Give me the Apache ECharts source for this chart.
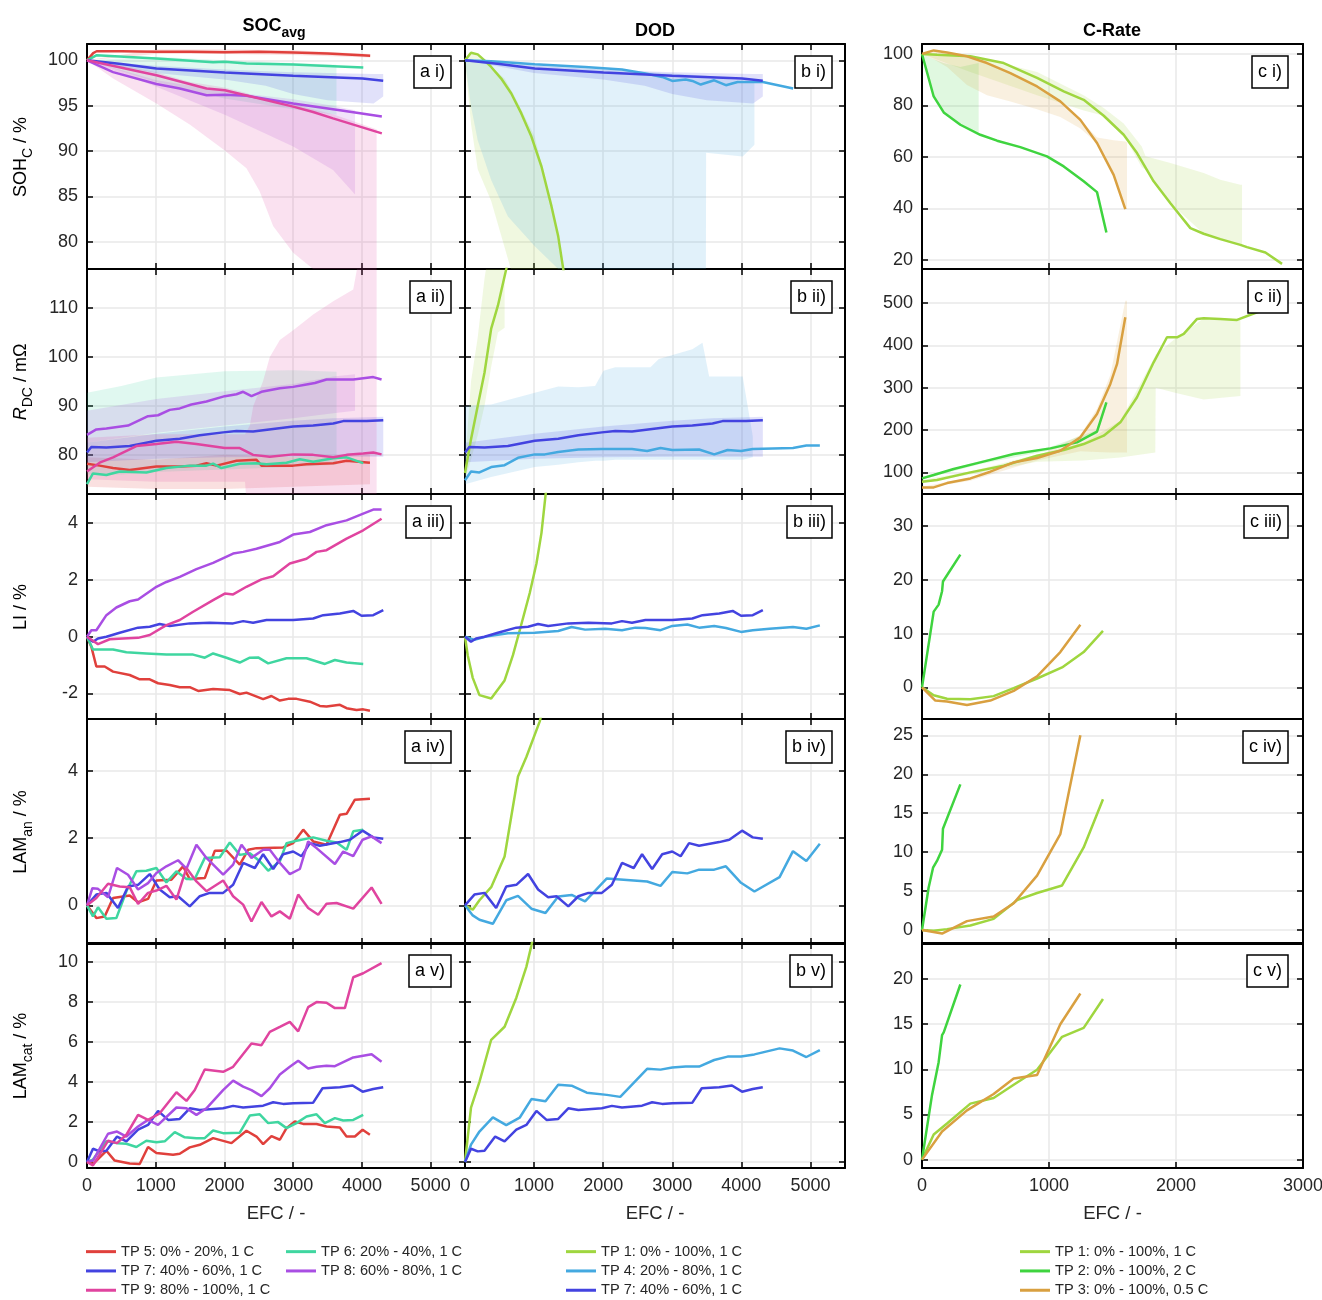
<!DOCTYPE html>
<html><head><meta charset="utf-8">
<script src="https://cdn.jsdelivr.net/npm/echarts@6/dist/echarts.min.js"></script>
<style>html,body{margin:0;padding:0;background:#fff}#c{width:1322px;height:1300px}</style>
</head><body><div id="c"></div>
<script>
// ---------- tick labels ----------
const xTicksAB = [0,1000,2000,3000,4000,5000];
const xTicksC = [0,1000,2000,3000];
const sohTicks = [80,85,90,95,100];
const rdcTicks = [80,90,100,110];
const liTicks = [-2,0,2,4];
const lamAnTicks = [0,2,4];
const lamCatTicks = [0,2,4,6,8,10];
const sohTicksC = [20,40,60,80,100];
const rdcTicksC = [100,200,300,400,500];
const liTicksC = [0,10,20,30];
const lamAnTicksC = [0,5,10,15,20,25];
const lamCatTicksC = [0,5,10,15,20];

// ---------- series names ----------
const N5='TP 5: 0% - 20%, 1 C', N6='TP 6: 20% - 40%, 1 C', N7='TP 7: 40% - 60%, 1 C',
      N8='TP 8: 60% - 80%, 1 C', N9='TP 9: 80% - 100%, 1 C', N1='TP 1: 0% - 100%, 1 C',
      N4='TP 4: 20% - 80%, 1 C', N2='TP 2: 0% - 100%, 2 C', N3='TP 3: 0% - 100%, 0.5 C';

// ---------- a i) SOH ----------
const tp5_soh=[[0,100],[90,100.8],[140,101.0],[500,101.0],[1000,100.95],[1500,100.95],[2000,100.9],[2500,100.95],[3000,100.85],[3500,100.75],[4000,100.55],[4120,100.5]];
const tp6_soh=[[0,100],[136,100.55],[1010,100.2],[1835,99.8],[2005,99.85],[2320,99.65],[3000,99.55],[3580,99.35],[4020,99.2]];
const tp7_soh=[[0,100],[500,99.6],[1010,99.1],[2005,98.65],[3000,98.3],[4010,98.0],[4310,97.75]];
const tp8_soh=[[0,100],[380,98.7],[1010,97.4],[1350,96.9],[1740,96.15],[2005,96.2],[2320,96.1],[3000,95.25],[3680,94.5],[4290,93.8]];
const tp9_soh=[[0,100],[1010,98.35],[1740,96.9],[2005,96.7],[3000,94.9],[3290,94.3],[3580,93.6],[4290,91.95]];
const tp5_soh_band=[[0,100,100],[1000,100.7,101.2],[2000,100.7,101.2],[3000,100.6,101.1],[4120,100.3,100.7]];
const tp6_soh_band=[[0,100,100],[1000,97.6,100.4],[2000,95.8,100.0],[3000,94.6,99.7],[3630,94.0,99.5]];
const tp7_soh_band=[[0,100,100],[1000,98.6,99.4],[2000,97.9,99.0],[2600,97.2,98.8],[3000,96.3,98.7],[3500,95.6,98.6],[4170,95.25,98.5],[4310,96.0,98.5]];
const tp8_soh_band=[[0,100,100],[1010,97.1,97.8],[2005,94.0,96.6],[3000,90.5,95.7],[3580,87.9,95.0],[3900,85.2,94.5]];
const tp9_soh_band=[[0,100,100],[380,98.0,99.6],[1010,95.25,98.7],[1500,92.9,97.6],[2000,90.1,97.0],[2320,88.1,96.4],[2510,85.6,95.8],[2710,81.7,95.3],[3000,78.8,95.2],[3290,77,94.6],[3600,70,94.0],[4214,70,92.4]];

// ---------- a ii) RDC ----------
const tp5_rdc=[[0,78.2],[184,77.8],[379,77.3],[621,76.9],[1010,77.6],[1350,77.6],[1592,77.8],[1738,78.3],[1883,77.8],[2175,78.8],[2466,79.0],[2539,77.8],[3000,77.8],[3194,78.1],[3583,78.3],[3777,78.8],[4117,78.4]];
const tp6_rdc=[[0,74.0],[87,76.2],[282,75.9],[476,76.6],[864,76.4],[1155,77.3],[1495,77.8],[1738,77.8],[1835,78.2],[1956,77.3],[2223,78.2],[2466,78.3],[2612,78.1],[2903,78.4],[3097,79.1],[3291,78.6],[3583,79.3],[3777,79.5],[4019,78.3]];
const tp7_rdc=[[0,80.5],[63,81.6],[282,81.5],[621,81.8],[1010,82.9],[1350,83.3],[1641,84.0],[1981,84.6],[2175,84.9],[2417,84.8],[3000,85.8],[3291,86.0],[3583,86.4],[3728,86.9],[4068,86.9],[4311,87.1]];
const tp8_rdc=[[0,84.1],[136,85.2],[282,85.4],[597,86.0],[888,87.9],[1034,88.1],[1204,89.2],[1350,89.5],[1519,90.3],[1738,90.9],[2005,92.0],[2175,92.4],[2272,92.9],[2393,92.0],[2539,92.9],[2806,93.6],[3000,93.9],[3194,94.4],[3316,94.7],[3485,95.4],[3874,95.4],[4165,95.9],[4286,95.4]];
const tp9_rdc=[[0,76.6],[184,78.4],[379,79.5],[718,81.8],[1010,82.2],[1301,82.7],[1592,82.2],[2005,81.4],[2223,81.4],[2417,80.0],[2660,79.6],[3000,80.1],[3291,80.0],[3583,79.5],[3777,80.0],[4019,80.3],[4165,80.5],[4286,80.1]];
const tp5_rdc_band=[[0,73.5,79.5],[1000,73.0,79.0],[2000,73.0,80.0],[3000,73.5,79.5],[4117,74.0,80.0]];
const tp6_rdc_band=[[0,76,92.7],[500,76,94.1],[1010,76.5,95.8],[2005,77,97.1],[3000,77.5,97.3],[3631,78,97.0]];
const tp7_rdc_band=[[0,78.5,82.5],[1010,79.2,84.3],[2005,79.5,85.8],[3000,79.6,87.0],[3583,79.6,87.5],[4311,79.6,87.8]];
const tp8_rdc_band=[[0,82.5,89],[1010,84.5,91.4],[2005,86,93],[3000,87.5,94.5],[3583,88.5,96.0],[3900,89,96.5]];
const tp9_rdc_band=[[0,75,83.5],[1000,74.5,84.2],[2300,74.5,84.2],[2369,60,86],[2420,60,90],[2560,60,95],[2660,60,100],[2806,60,103.5],[3000,60,105.5],[3291,60,108.7],[3583,60,111.4],[3874,60,113.8],[4019,60,125],[4214,60,125]];

// ---------- a iii) LI ----------
const tp5_li=[[0,0],[63,-0.35],[136,-1.05],[257,-1.05],[379,-1.23],[621,-1.35],[767,-1.5],[913,-1.5],[1034,-1.64],[1204,-1.7],[1350,-1.78],[1495,-1.78],[1617,-1.91],[1835,-1.84],[2078,-1.88],[2223,-2.02],[2320,-1.97],[2563,-2.2],[2684,-2.09],[2806,-2.25],[2927,-2.19],[3049,-2.19],[3243,-2.29],[3388,-2.44],[3485,-2.46],[3680,-2.4],[3777,-2.52],[3922,-2.58],[4019,-2.56],[4117,-2.61]];
const tp6_li=[[0,0],[87,-0.45],[379,-0.45],[573,-0.55],[864,-0.59],[1155,-0.63],[1544,-0.63],[1714,-0.74],[1835,-0.59],[2029,-0.74],[2223,-0.91],[2369,-0.74],[2490,-0.73],[2636,-0.94],[2903,-0.76],[3194,-0.76],[3461,-0.96],[3607,-0.82],[3777,-0.91],[4019,-0.96]];
const tp7_li=[[0,0],[87,-0.18],[160,-0.06],[282,0],[476,0.14],[743,0.32],[913,0.35],[1058,0.45],[1204,0.38],[1495,0.47],[1786,0.49],[2126,0.47],[2272,0.55],[2417,0.49],[2612,0.59],[3000,0.59],[3291,0.64],[3437,0.76],[3680,0.82],[3874,0.91],[3995,0.74],[4165,0.76],[4311,0.94]];
const tp8_li=[[0,0],[63,0.23],[136,0.23],[282,0.76],[427,1.03],[621,1.25],[743,1.31],[1010,1.76],[1155,1.93],[1350,2.11],[1592,2.38],[1835,2.6],[2126,2.93],[2272,2.99],[2466,3.1],[2806,3.34],[3000,3.6],[3243,3.69],[3485,3.93],[3777,4.1],[4019,4.34],[4165,4.48],[4286,4.48]];
const tp9_li=[[0,0],[160,-0.26],[330,-0.09],[524,-0.06],[743,-0.04],[913,0.06],[1155,0.41],[1350,0.59],[1544,0.88],[1835,1.29],[2005,1.52],[2126,1.49],[2320,1.76],[2539,2.02],[2709,2.13],[2951,2.58],[3194,2.75],[3340,2.99],[3485,3.05],[3777,3.46],[4019,3.75],[4286,4.16]];

// ---------- a iv) LAM anode ----------
const tp5_an=[[0,0],[136,-0.38],[257,-0.33],[379,0.22],[621,0.29],[743,0.09],[888,0.19],[1010,0.74],[1228,0.76],[1398,1.16],[1495,0.78],[1714,0.81],[1859,1.62],[2029,1.63],[2223,1.21],[2345,1.65],[2466,1.7],[2854,1.72],[3000,1.85],[3146,2.25],[3291,1.9],[3485,1.8],[3680,2.69],[3777,2.72],[3898,3.14],[4117,3.17]];
const tp6_an=[[0,0],[87,-0.33],[160,-0.06],[282,-0.4],[427,-0.38],[573,0.42],[718,1.01],[864,1.03],[1010,1.11],[1155,0.68],[1301,1.01],[1447,0.78],[1568,0.78],[1714,1.41],[1932,1.43],[2078,1.87],[2223,1.5],[2369,1.55],[2515,1.31],[2636,1.03],[2806,1.31],[2903,1.85],[3049,1.92],[3291,2.02],[3485,1.92],[3631,1.87],[3777,1.65],[3874,2.2],[4019,2.25]];
const tp7_an=[[0,0],[136,0.32],[282,0.37],[451,-0.08],[597,0.56],[743,0.61],[913,0.93],[1058,0.47],[1204,0.24],[1325,0.27],[1495,-0.03],[1641,0.27],[1786,0.37],[1981,0.37],[2126,0.61],[2272,1.26],[2442,1.11],[2563,1.52],[2709,1.08],[2854,1.52],[3000,1.6],[3121,1.46],[3243,1.85],[3388,1.77],[3680,1.88],[3825,1.95],[4010,2.22],[4165,2.02],[4311,1.98]];
const tp8_an=[[0,0],[78,0.51],[160,0.49],[306,0.24],[437,1.11],[597,0.91],[743,0.47],[888,0.66],[1010,0.96],[1155,1.16],[1325,1.34],[1447,1.09],[1592,1.8],[1738,1.41],[1981,0.91],[2126,1.21],[2248,1.8],[2393,1.41],[2563,1.65],[2660,1.65],[2806,1.26],[2951,0.93],[3097,1.08],[3218,1.9],[3340,1.7],[3607,1.23],[3728,1.6],[3874,1.46],[4010,1.95],[4141,2.05],[4286,1.85]];
const tp9_an=[[0,0],[136,0.22],[306,0.64],[476,0.56],[621,0.54],[743,0.04],[888,0.37],[1010,0.44],[1155,0.58],[1301,0.17],[1447,1.11],[1592,0.71],[1738,0.42],[1981,0.74],[2126,0.27],[2272,0.02],[2393,-0.48],[2539,0.1],[2684,-0.33],[2806,-0.18],[2951,-0.4],[3073,0.32],[3218,-0.08],[3364,-0.28],[3485,0.05],[3631,0.07],[3874,-0.1],[4141,0.53],[4286,0.04]];

// ---------- a v) LAM cathode ----------
const tp5_cat=[[0,0],[87,-0.1],[282,0.56],[403,0.07],[621,-0.08],[767,-0.1],[888,0.75],[1010,0.45],[1252,0.36],[1349,0.41],[1495,0.73],[1641,0.86],[1835,1.19],[2102,0.94],[2320,1.56],[2466,1.27],[2563,0.89],[2684,1.29],[2806,1.11],[2903,1.69],[3024,2.02],[3145,1.9],[3340,1.9],[3485,1.77],[3679,1.72],[3776,1.27],[3898,1.27],[4010,1.61],[4116,1.36]];
const tp6_cat=[[0,0],[87,0.12],[282,1.03],[451,0.94],[573,0.91],[718,0.75],[864,1.06],[1010,0.99],[1131,1.03],[1277,1.49],[1422,1.23],[1592,1.19],[1713,1.19],[1835,1.57],[1980,1.44],[2223,1.46],[2369,2.32],[2514,2.38],[2636,1.94],[2781,1.99],[2903,1.69],[3048,1.94],[3194,2.27],[3340,2.38],[3461,1.94],[3607,2.19],[3728,2.07],[3874,2.1],[4019,2.35]];
const tp7_cat=[[0,0],[87,0.66],[184,0.53],[282,0.56],[437,1.27],[573,1.03],[743,1.61],[888,1.85],[1034,2.55],[1180,2.1],[1349,2.15],[1495,2.68],[1641,2.6],[1980,2.68],[2126,2.8],[2272,2.72],[2563,2.81],[2709,2.98],[2854,2.9],[3000,2.93],[3291,2.96],[3427,3.68],[3679,3.73],[3864,3.82],[4010,3.51],[4165,3.64],[4310,3.73]];
const tp8_cat=[[0,0],[87,0.07],[306,1.41],[437,1.52],[573,1.27],[743,1.77],[888,2.1],[1034,1.85],[1301,2.72],[1447,2.68],[1592,2.35],[1738,2.68],[1980,3.59],[2126,4.06],[2272,3.76],[2393,3.59],[2539,3.29],[2660,3.68],[2806,4.37],[2951,4.75],[3073,5.05],[3218,4.67],[3340,4.75],[3485,4.8],[3607,4.78],[3874,5.22],[4141,5.38],[4286,5.0]];
const tp9_cat=[[0,0],[87,-0.17],[306,1.06],[437,0.94],[573,1.36],[743,2.35],[888,2.1],[1058,2.43],[1301,3.48],[1447,3.05],[1568,3.59],[1713,4.62],[1980,4.5],[2126,4.75],[2393,5.91],[2539,5.83],[2660,6.49],[2806,6.74],[2951,6.99],[3073,6.52],[3218,7.73],[3340,7.98],[3485,7.95],[3607,7.68],[3752,7.68],[3874,9.22],[4019,9.42],[4286,9.93]];

// ---------- b) DOD ----------
const tp1_soh=[[0,100],[87,100.84],[184,100.66],[282,100],[379,99.27],[524,97.99],[670,96.34],[815,94.15],[961,91.6],[1107,88.3],[1252,83.9],[1349,80.6],[1422,77.0],[1450,75.5]];
const tp4_soh=[[0,100],[379,99.9],[1010,99.56],[1738,99.27],[2272,98.98],[2611,98.54],[2854,98.17],[3000,97.73],[3194,97.88],[3291,97.73],[3412,97.33],[3607,97.8],[3776,97.26],[3946,97.62],[4165,97.62],[4310,97.62],[4750,96.9]];
const tp1_soh_band=[[0,100,100],[87,93,100.84],[184,88,100.66],[379,84.5,99.27],[573,79.4,97.99],[700,76,96.3],[1010,70,91.6],[1252,65,83.9],[1422,60,77.0]];
const tp4_soh_band=[[0,100,100],[87,94.9,100],[184,91.2,100],[379,86.8,99.9],[621,82.8,99.8],[1010,79.5,99.56],[1349,77,99.4],[1500,70,99.3],[3485,70,98.3],[3490,89.8,98.3],[4019,89.4,97.7],[4189,90.7,97.6]];
const tp1_rdc=[[0,76.3],[87,83.2],[184,90],[282,96.8],[379,105.8],[476,110.5],[597,118],[650,122]];
const tp4_rdc=[[0,74.8],[87,76.6],[209,76.4],[379,77.5],[573,77.9],[767,79.4],[1010,80.1],[1155,80.1],[1349,80.6],[1641,81.1],[1980,81.2],[2417,81.2],[2636,80.8],[2830,81.4],[3000,81.0],[3388,81.1],[3607,80.1],[3801,81.0],[3995,80.8],[4165,81.2],[4747,81.4],[4941,81.9],[5136,81.9]];
const tp1_rdc_band=[[0,75,78],[87,79,95],[184,84,104],[282,90,116],[379,98,125],[476,105,130],[573,106,130]];
const tp4_rdc_band=[[0,74,90],[379,75.5,90.3],[1010,77.5,92.7],[1349,78,94],[1641,78.5,93.8],[1883,78.8,94.1],[2005,78.8,97.2],[2175,79,97.9],[2684,79,97.9],[2806,79,99.6],[3291,79,101.6],[3437,79,102.9],[3534,79,96.0],[4019,79,96.0],[4165,79.5,83.8]];
const tp1_li=[[0,0],[39,-0.65],[112,-1.45],[209,-2.06],[379,-2.18],[573,-1.54],[694,-0.65],[815,0.43],[937,1.54],[1034,2.58],[1107,3.66],[1165,4.97],[1190,5.5]];
const tp4_li=[[0,0],[136,-0.11],[330,0.02],[621,0.12],[1010,0.14],[1349,0.2],[1543,0.34],[1738,0.25],[2029,0.28],[2272,0.23],[2466,0.32],[2611,0.31],[2830,0.23],[3000,0.38],[3218,0.43],[3388,0.32],[3607,0.38],[3776,0.31],[3995,0.17],[4165,0.23],[4407,0.28],[4747,0.34],[4941,0.28],[5136,0.4]];
const tp1_an=[[0,0],[112,-0.13],[209,0.15],[379,0.54],[573,1.45],[646,2.35],[767,3.83],[888,4.41],[1082,5.47],[1120,5.8]];
const tp4_an=[[0,0],[112,-0.3],[209,-0.43],[403,-0.55],[597,0.15],[767,0.28],[961,-0.1],[1165,-0.23],[1349,0.26],[1543,0.31],[1738,0.12],[2053,0.8],[2636,0.71],[2830,0.58],[3000,0.99],[3218,0.95],[3388,1.06],[3607,1.06],[3776,1.16],[3995,0.67],[4189,0.41],[4553,0.84],[4747,1.61],[4941,1.32],[5136,1.83]];
const tp1_cat=[[0,0],[87,2.71],[209,4.0],[379,6.1],[573,6.75],[743,8.2],[888,9.74],[961,10.8],[1000,11.5]];
const tp4_cat=[[0,0],[87,0.87],[209,1.52],[403,2.23],[597,1.84],[791,2.21],[961,3.14],[1165,3.03],[1349,3.85],[1543,3.81],[1762,3.46],[2053,3.35],[2247,3.25],[2636,4.65],[2830,4.61],[3000,4.72],[3194,4.76],[3388,4.76],[3607,5.09],[3801,5.26],[3995,5.26],[4189,5.37],[4553,5.67],[4747,5.56],[4941,5.24],[5136,5.58]];

// ---------- c) C-Rate ----------
const tp1_soh_c=[[0,100],[118,99.7],[381,99.1],[643,96.5],[906,90.7],[1116,85.5],[1273,82.2],[1431,76.0],[1588,68.6],[1693,61.5],[1824,50.5],[1956,42.0],[2113,32.3],[2218,30.1],[2349,28.0],[2507,25.8],[2559,24.9],[2704,22.8],[2835,18.4]];
const tp2_soh_c=[[0,100],[92,83.5],[171,77.3],[302,72.5],[459,68.6],[591,66.3],[774,63.8],[984,60.2],[1116,56.3],[1273,50.5],[1378,46.3],[1452,30.6]];
const tp3_soh_c=[[0,100],[92,101.4],[197,100.6],[354,99.1],[512,96.5],[696,92.6],[906,87.4],[1089,81.6],[1247,74.4],[1378,65.4],[1509,53.0],[1601,39.7]];
const tp1_soh_c_band=[[0,100,100],[381,93,99.5],[906,84,93],[1273,78,84],[1431,76,79],[1588,68.6,73],[1730,56,64],[1760,55,60.2],[1956,42,57.6],[2218,30.1,53.7],[2349,28,51.1],[2507,25.8,49.2],[2520,25.8,49.2]];
const tp2_soh_c_band=[[0,100,100],[92,83.5,98],[171,77.3,96.5],[302,72.5,95],[446,69.5,96.5]];
const tp3_soh_c_band=[[0,100,100],[92,98,101.4],[197,95,100.6],[354,88,99.1],[512,84,96.5],[696,81.5,92.6],[906,78.5,87.4],[1089,75.5,81.6],[1247,71,74.4],[1378,65.4,67.5],[1509,53,66.5],[1601,39.7,66],[1614,39.7,65.6]];
const tp1_rdc_c=[[0,78],[118,81.9],[381,100],[643,115.7],[906,139.4],[1116,152.8],[1273,166.9],[1431,186.6],[1562,218.1],[1693,277.2],[1824,359.8],[1929,418.9],[2008,418.9],[2061,426.8],[2166,462.2],[2218,463.8],[2349,462.2],[2481,459.8],[2638,477.9],[2691,481.9],[2820,483]];
const tp2_rdc_c=[[0,85.8],[92,93.7],[249,107.9],[459,123.6],[722,143.3],[1011,156.7],[1221,170.9],[1378,196.1],[1452,265.4]];
const tp3_rdc_c=[[0,64.6],[92,64.6],[197,74.8],[381,85.8],[538,101.6],[722,123.6],[906,133.9],[1089,151.2],[1247,182.7],[1378,237.8],[1483,308.7],[1536,355.9],[1601,466.1]];
const tp1_rdc_c_band=[[0,75,82],[381,95,102],[906,125,142],[1273,128,170],[1562,135,222],[1837,147,375],[1840,300,378],[2008,287,419],[2218,272,464],[2507,280,460]];
const tp2_rdc_c_band=[[0,83,89],[459,120,127],[1011,152,160],[1378,190,200],[1452,255,270]];
const tp3_rdc_c_band=[[0,62,66],[381,80,88],[906,128,137],[1247,150,188],[1378,148,250],[1483,147,330],[1601,147,505],[1614,147,505]];
const tp1_li_c=[[0,0],[92,-1.48],[197,-2.14],[381,-2.22],[564,-1.64],[722,-0.16],[906,1.64],[1103,3.7],[1273,6.57],[1425,10.5]];
const tp2_li_c=[[0,0],[92,14.1],[131,15.4],[158,17.9],[165,19.7],[302,24.7]];
const tp3_li_c=[[0,0],[105,-2.47],[197,-2.63],[354,-3.29],[538,-2.47],[722,-0.66],[906,2.05],[1089,6.57],[1247,11.67]];
const tp1_an_c=[[0,0],[92,-0.1],[197,0.11],[381,0.57],[564,1.43],[748,3.83],[906,4.75],[1103,5.72],[1273,10.6],[1425,16.8]];
const tp2_an_c=[[0,0],[52,5.43],[87,8.0],[118,8.87],[158,10.3],[165,13.0],[302,18.7]];
const tp3_an_c=[[0,0],[158,-0.46],[354,1.14],[564,1.72],[722,3.43],[906,6.98],[1089,12.3],[1247,25]];
const tp1_cat_c=[[0,0],[92,2.78],[197,4.0],[381,6.2],[564,6.83],[722,8.3],[906,9.95],[1103,13.6],[1273,14.6],[1425,17.8]];
const tp2_cat_c=[[0,0],[79,7.17],[131,10.8],[158,13.8],[171,14.1],[302,19.4]];
const tp3_cat_c=[[0,0],[158,3.12],[354,5.46],[564,7.27],[722,8.98],[906,9.37],[1089,15.0],[1247,18.4]];

// ---------- styling ----------
const COLORS = {};
COLORS[N5]='#e0403c'; COLORS[N6]='#3fd6a0'; COLORS[N7]='#4343e0'; COLORS[N8]='#a94ee3';
COLORS[N9]='#e0449f'; COLORS[N1]='#9fd63f'; COLORS[N4]='#44a9e0'; COLORS[N2]='#3fd43f'; COLORS[N3]='#d9a040';
const FONT = 'Liberation Sans, Arial, Helvetica, sans-serif';
const colLeft=[87,465,922], colWidth=[378,380,381];
const rowTop=[44,269,494,719,943], rowH=225;

const panels = [
 {c:0,r:0,xmax:5500,ymin:77,ymax:101.8,xt:xTicksAB,yt:sohTicks,lab:'a i)',
  lines:[[N5,tp5_soh],[N6,tp6_soh],[N7,tp7_soh],[N8,tp8_soh],[N9,tp9_soh]],
  bands:[[N5,tp5_soh_band],[N6,tp6_soh_band],[N7,tp7_soh_band],[N8,tp8_soh_band],[N9,tp9_soh_band]]},
 {c:0,r:1,xmax:5500,ymin:72,ymax:118,xt:xTicksAB,yt:rdcTicks,lab:'a ii)',
  lines:[[N5,tp5_rdc],[N6,tp6_rdc],[N7,tp7_rdc],[N8,tp8_rdc],[N9,tp9_rdc]],
  bands:[[N5,tp5_rdc_band],[N6,tp6_rdc_band],[N7,tp7_rdc_band],[N8,tp8_rdc_band],[N9,tp9_rdc_band]]},
 {c:0,r:2,xmax:5500,ymin:-2.9,ymax:5.03,xt:xTicksAB,yt:liTicks,lab:'a iii)',
  lines:[[N5,tp5_li],[N6,tp6_li],[N7,tp7_li],[N8,tp8_li],[N9,tp9_li]],bands:[]},
 {c:0,r:3,xmax:5500,ymin:-1.15,ymax:5.54,xt:xTicksAB,yt:lamAnTicks,lab:'a iv)',
  lines:[[N5,tp5_an],[N6,tp6_an],[N7,tp7_an],[N8,tp8_an],[N9,tp9_an]],bands:[]},
 {c:0,r:4,xmax:5500,ymin:-0.3,ymax:10.93,xt:xTicksAB,yt:lamCatTicks,lab:'a v)',
  lines:[[N5,tp5_cat],[N6,tp6_cat],[N7,tp7_cat],[N8,tp8_cat],[N9,tp9_cat]],bands:[]},
 {c:1,r:0,xmax:5500,ymin:77,ymax:101.8,xt:xTicksAB,yt:sohTicks,lab:'b i)',
  lines:[[N1,tp1_soh],[N4,tp4_soh],[N7,tp7_soh]],
  bands:[[N1,tp1_soh_band],[N4,tp4_soh_band],[N7,tp7_soh_band]]},
 {c:1,r:1,xmax:5500,ymin:72,ymax:118,xt:xTicksAB,yt:rdcTicks,lab:'b ii)',
  lines:[[N1,tp1_rdc],[N4,tp4_rdc],[N7,tp7_rdc]],
  bands:[[N1,tp1_rdc_band],[N4,tp4_rdc_band],[N7,tp7_rdc_band]]},
 {c:1,r:2,xmax:5500,ymin:-2.9,ymax:5.03,xt:xTicksAB,yt:liTicks,lab:'b iii)',
  lines:[[N1,tp1_li],[N4,tp4_li],[N7,tp7_li]],bands:[]},
 {c:1,r:3,xmax:5500,ymin:-1.15,ymax:5.54,xt:xTicksAB,yt:lamAnTicks,lab:'b iv)',
  lines:[[N1,tp1_an],[N4,tp4_an],[N7,tp7_an]],bands:[]},
 {c:1,r:4,xmax:5500,ymin:-0.3,ymax:10.93,xt:xTicksAB,yt:lamCatTicks,lab:'b v)',
  lines:[[N1,tp1_cat],[N4,tp4_cat],[N7,tp7_cat]],bands:[]},
 {c:2,r:0,xmax:3000,ymin:16.4,ymax:103.9,xt:xTicksC,yt:sohTicksC,lab:'c i)',
  lines:[[N1,tp1_soh_c],[N2,tp2_soh_c],[N3,tp3_soh_c]],
  bands:[[N1,tp1_soh_c_band],[N2,tp2_soh_c_band],[N3,tp3_soh_c_band]]},
 {c:2,r:1,xmax:3000,ymin:49,ymax:580,xt:xTicksC,yt:rdcTicksC,lab:'c ii)',
  lines:[[N1,tp1_rdc_c],[N2,tp2_rdc_c],[N3,tp3_rdc_c]],
  bands:[[N1,tp1_rdc_c_band],[N2,tp2_rdc_c_band],[N3,tp3_rdc_c_band]]},
 {c:2,r:2,xmax:3000,ymin:-5.9,ymax:36,xt:xTicksC,yt:liTicksC,lab:'c iii)',
  lines:[[N1,tp1_li_c],[N2,tp2_li_c],[N3,tp3_li_c]],bands:[]},
 {c:2,r:3,xmax:3000,ymin:-1.8,ymax:27.1,xt:xTicksC,yt:lamAnTicksC,lab:'c iv)',
  lines:[[N1,tp1_an_c],[N2,tp2_an_c],[N3,tp3_an_c]],bands:[]},
 {c:2,r:4,xmax:3000,ymin:-0.93,ymax:24,xt:xTicksC,yt:lamCatTicksC,lab:'c v)',
  lines:[[N1,tp1_cat_c],[N2,tp2_cat_c],[N3,tp3_cat_c]],bands:[]}
];

function rgba(hex,a){const n=parseInt(hex.slice(1),16);return 'rgba('+(n>>16)+','+((n>>8)&255)+','+(n&255)+','+a+')';}
const plain = v => String(v);

const grid=[], xAxis=[], yAxis=[], lineSeries=[], bandSeries=[], title=[];
const axisLineStyle={show:true,onZero:false,lineStyle:{color:'#000',width:2}};
panels.forEach((p,i)=>{
  grid.push({left:colLeft[p.c],top:rowTop[p.r],width:colWidth[p.c],height:rowH,
    containLabel:false,outerBoundsMode:'none'});
  const tick={inside:true,length:6,lineStyle:{color:'#000',width:1.5},customValues:p.xt};
  xAxis.push({gridIndex:i,type:'value',min:0,max:p.xmax,position:'bottom',axisLine:axisLineStyle,
    axisTick:tick,
    axisLabel:{show:p.r===4,customValues:p.xt,formatter:plain,fontSize:18,color:'#262626',fontFamily:FONT,margin:9},
    splitLine:{show:true,lineStyle:{color:'#e9e9e9',width:1.5}},
    name:p.r===4?'EFC / -':'',nameLocation:'middle',nameGap:36,
    nameTextStyle:{fontSize:18.5,color:'#262626',fontFamily:FONT}});
  xAxis.push({gridIndex:i,type:'value',min:0,max:p.xmax,position:'top',axisLine:axisLineStyle,
    axisTick:tick,axisLabel:{show:false},splitLine:{show:false}});
  const ytick={inside:true,length:6,lineStyle:{color:'#000',width:1.5},customValues:p.yt};
  yAxis.push({gridIndex:i,type:'value',min:p.ymin,max:p.ymax,position:'left',axisLine:axisLineStyle,
    axisTick:ytick,
    axisLabel:{show:p.c!==1,customValues:p.yt,formatter:plain,fontSize:18,color:'#262626',fontFamily:FONT,margin:9},
    splitLine:{show:true,lineStyle:{color:'#e9e9e9',width:1.5}}});
  yAxis.push({gridIndex:i,type:'value',min:p.ymin,max:p.ymax,position:'right',axisLine:axisLineStyle,
    axisTick:ytick,axisLabel:{show:false},splitLine:{show:false}});
  p.lines.forEach(([name,data])=>{
    lineSeries.push({type:'line',name,data,xAxisIndex:2*i,yAxisIndex:2*i,showSymbol:false,symbol:'none',
      clip:true,z:3,lineStyle:{width:2.5,color:COLORS[name]},itemStyle:{color:COLORS[name]},
      emphasis:{disabled:true}});
  });
  p.bands.forEach(([name,rows])=>{
    const col=COLORS[name];
    bandSeries.push({type:'custom',name,xAxisIndex:2*i,yAxisIndex:2*i,clip:true,z:1,silent:true,
      dimensions:['x','lo','hi'],encode:{x:'x',y:['lo','hi']},data:rows,
      renderItem:function(params,api){
        if(params.dataIndexInside!==0) return null;
        const lower=[],upper=[];
        for(let k=0;k<rows.length;k++){
          lower.push(api.coord([api.value(0,k),api.value(1,k)]));
          upper.push(api.coord([api.value(0,k),api.value(2,k)]));
        }
        return {type:'polygon',shape:{points:lower.concat(upper.reverse())},
          style:{fill:rgba(col,0.16),stroke:null}};
      }});
  });
  const rightEdge=[451,832,1288][p.c];
  title.push({text:p.lab,right:1322-rightEdge,top:rowTop[p.r]+12,padding:[7,6],
    borderColor:'#000',borderWidth:1.5,backgroundColor:'#fff',
    textStyle:{fontSize:18,fontWeight:'normal',color:'#000',fontFamily:FONT}});
});

const legendCommon={orient:'vertical',itemWidth:30,itemHeight:3,icon:'rect',itemGap:0,padding:0,
  height:70,textStyle:{fontSize:14.6,lineHeight:19.3,color:'#262626',fontFamily:FONT},selectedMode:true};
const legend=[
  Object.assign({left:86,top:1242,data:[N5,N7,N9]},legendCommon),
  Object.assign({left:286,top:1242,data:[N6,N8]},legendCommon),
  Object.assign({left:566,top:1242,data:[N1,N4,N7]},legendCommon),
  Object.assign({left:1020,top:1242,data:[N1,N2,N3]},legendCommon)
];

function sub(mainSize,bold){
  return {m:{fontSize:mainSize,fontWeight:bold?'bold':'normal',lineHeight:28,fontFamily:FONT,fill:'#000'},
          i:{fontSize:mainSize,fontStyle:'italic',lineHeight:28,fontFamily:FONT,fill:'#000'},
          s:{fontSize:Math.round(mainSize*0.75),fontWeight:bold?'bold':'normal',lineHeight:12,verticalAlign:'bottom',fontFamily:FONT,fill:'#000'}};
}
function txt(x,y,text,size,bold,rot){
  return {type:'text',x,y,rotation:rot||0,z:10,
    style:{text,rich:sub(size,bold),align:'center',verticalAlign:'middle',textAlign:'center',textVerticalAlign:'middle',
      fontSize:size,fontFamily:FONT,fill:'#000'}};
}
const R90=Math.PI/2;
const graphic=[
  txt(274,26,'{m|SOC}{s|avg}',18,true),
  txt(655,31,'{m|DOD}',18,true),
  txt(1112,31,'{m|C-Rate}',18,true),
  txt(21,157,'{m|SOH}{s|C}{m| / %}',18,false,R90),
  txt(21,382,'{i|R}{s|DC}{m| / mΩ}',18,false,R90),
  txt(21,607,'{m|LI / %}',18,false,R90),
  txt(21,832,'{m|LAM}{s|an}{m| / %}',18,false,R90),
  txt(21,1056,'{m|LAM}{s|cat}{m| / %}',18,false,R90)
];

const chart=echarts.init(document.getElementById('c'),null,{renderer:'canvas'});
chart.setOption({animation:false,backgroundColor:'#fff',grid,xAxis,yAxis,title,legend,graphic,
  series:lineSeries.concat(bandSeries)});
</script></body></html>
